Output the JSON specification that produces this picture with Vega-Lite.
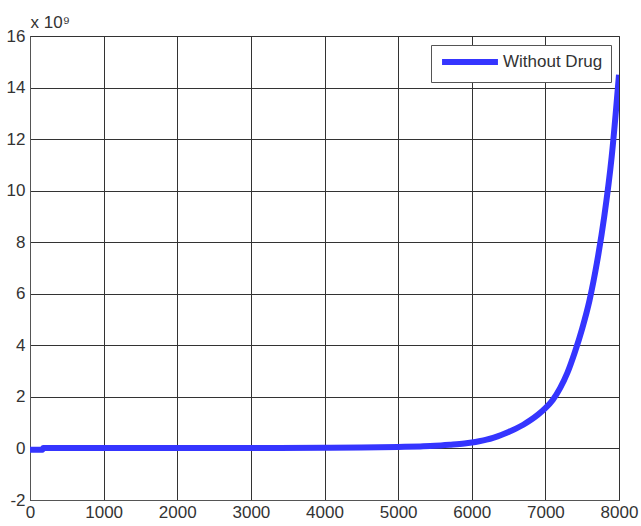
{
  "$schema": "https://vega.github.io/schema/vega-lite/v6.json",
  "autosize": "none",
  "width": 589,
  "height": 464,
  "padding": {"left": 30, "top": 36, "right": 22, "bottom": 26},
  "background": "white",
  "config": {
    "font": "Liberation Sans",
    "view": {"stroke": "#555555", "strokeWidth": 1},
    "axis": {
      "labelFont": "Liberation Sans",
      "labelFontSize": 17,
      "labelColor": "#333333",
      "grid": true,
      "gridColor": "#333333",
      "gridOpacity": 1,
      "gridWidth": 1,
      "domainColor": "#555555",
      "ticks": false
    }
  },
  "data": {
    "values": [
      {"t": 0, "cells": -0.05},
      {"t": 170, "cells": -0.05},
      {"t": 180, "cells": 0.02},
      {"t": 500, "cells": 0.02},
      {"t": 1000, "cells": 0.02},
      {"t": 2000, "cells": 0.02},
      {"t": 3000, "cells": 0.02},
      {"t": 4000, "cells": 0.03},
      {"t": 4500, "cells": 0.04},
      {"t": 5000, "cells": 0.06},
      {"t": 5300, "cells": 0.08},
      {"t": 5500, "cells": 0.1},
      {"t": 5700, "cells": 0.14},
      {"t": 5900, "cells": 0.19},
      {"t": 6000, "cells": 0.23},
      {"t": 6100, "cells": 0.28},
      {"t": 6200, "cells": 0.34},
      {"t": 6300, "cells": 0.42},
      {"t": 6400, "cells": 0.52},
      {"t": 6500, "cells": 0.64},
      {"t": 6600, "cells": 0.77},
      {"t": 6700, "cells": 0.92},
      {"t": 6800, "cells": 1.1},
      {"t": 6900, "cells": 1.31},
      {"t": 7000, "cells": 1.56},
      {"t": 7100, "cells": 1.88},
      {"t": 7200, "cells": 2.34},
      {"t": 7300, "cells": 2.94},
      {"t": 7400, "cells": 3.73},
      {"t": 7500, "cells": 4.65},
      {"t": 7600, "cells": 5.75},
      {"t": 7700, "cells": 7.2},
      {"t": 7800, "cells": 9.0},
      {"t": 7900, "cells": 11.3},
      {"t": 8000, "cells": 14.5}
    ]
  },
  "transform": [{"calculate": "'Without Drug'", "as": "series"}],
  "mark": {"type": "line", "strokeWidth": 6, "clip": true, "strokeCap": "butt", "strokeJoin": "round", "interpolate": "monotone"},
  "encoding": {
    "x": {
      "field": "t",
      "type": "quantitative",
      "scale": {"domain": [0, 8000], "nice": false, "zero": false},
      "axis": {"values": [0, 1000, 2000, 3000, 4000, 5000, 6000, 7000, 8000], "labelExpr": "'' + datum.value", "title": null, "labelPadding": 4, "labelFlush": false, "labelOverlap": false}
    },
    "y": {
      "field": "cells",
      "type": "quantitative",
      "scale": {"domain": [-2, 16], "nice": false, "zero": false},
      "axis": {
        "values": [-2, 0, 2, 4, 6, 8, 10, 12, 14, 16],
        "labelExpr": "'' + datum.value",
        "labelPadding": 5,
        "labelFlush": false,
        "labelOverlap": false,
        "title": "x 10⁹",
        "titleAngle": 0,
        "titleX": 0,
        "titleY": -9,
        "titleAlign": "left",
        "titleBaseline": "alphabetic",
        "titleFont": "Liberation Sans",
        "titleFontSize": 17,
        "titleFontWeight": "normal",
        "titleColor": "#333333"
      }
    },
    "color": {
      "field": "series",
      "type": "nominal",
      "scale": {"range": ["#3535ff"]},
      "legend": {
        "title": null,
        "orient": "none",
        "legendX": 401,
        "legendY": 9,
        "symbolType": "M-5,0H5",
        "symbolSize": 125,
        "symbolOffset": 22,
        "symbolStrokeWidth": 6,
        "labelFont": "Liberation Sans",
        "labelFontSize": 17,
        "labelColor": "#333333",
        "labelOffset": 24,
        "strokeColor": "#555555",
        "fillColor": "white",
        "padding": 8
      }
    }
  }
}
